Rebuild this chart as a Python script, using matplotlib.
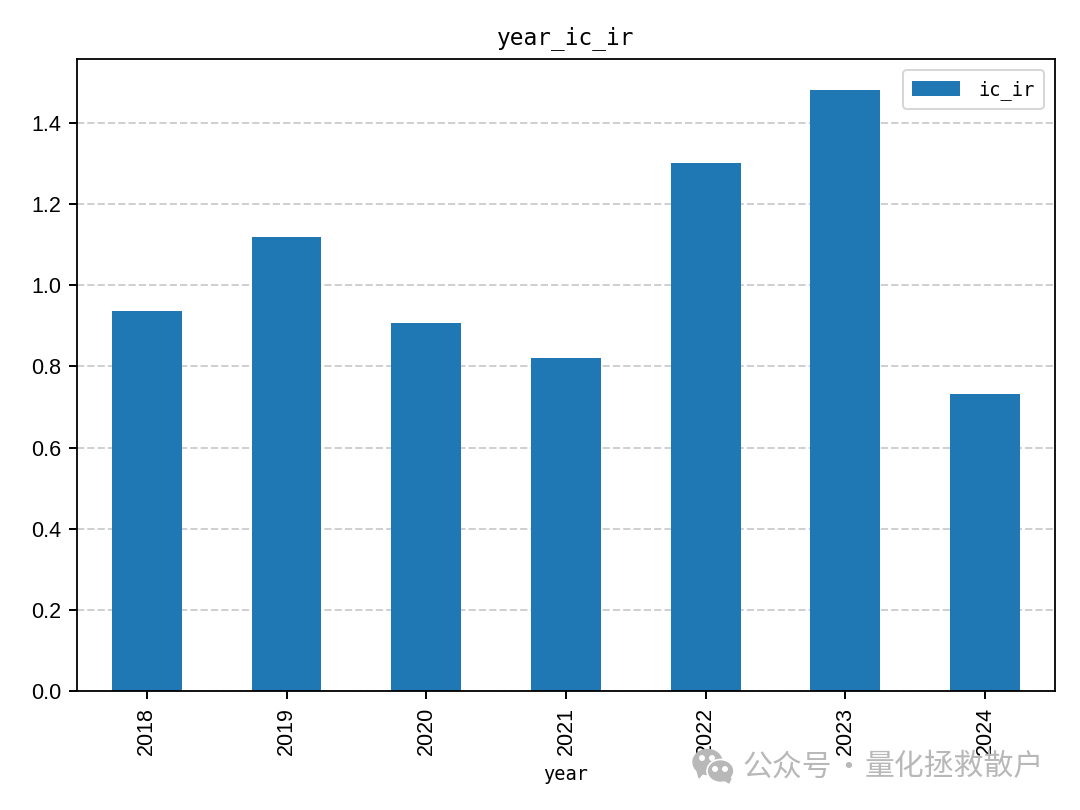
import matplotlib
matplotlib.use('Agg')
import matplotlib.pyplot as plt
from matplotlib.patches import Ellipse, Polygon
from matplotlib.transforms import IdentityTransform
import pandas as pd

plt.rcParams['font.family'] = ['Noto Sans CJK SC', 'DejaVu Sans']
plt.rcParams['axes.unicode_minus'] = False

years = [2018, 2019, 2020, 2021, 2022, 2023, 2024]
ic_ir = [0.936, 1.12, 0.906, 0.822, 1.302, 1.482, 0.733]
y_ticks = [0.0, 0.2, 0.4, 0.6, 0.8, 1.0, 1.2, 1.4]

MONO = 'DejaVu Sans Mono'
SANS = 'Liberation Sans'
W, H = 1080, 810
MARK = '#b8b8b8'

df = pd.DataFrame({'ic_ir': ic_ir}, index=pd.Index(years, name='year'))

fig = plt.figure(figsize=(10.8, 8.1), dpi=100)
ax = fig.add_axes([77/W, 1-691/H, (1055-77)/W, (691-59)/H])

df.plot(kind='bar', ax=ax, color='#1f77b4', width=0.5)

ax.set_title('year_ic_ir', fontsize=16.4, family=MONO, pad=10.5)
ax.set_xlabel('year', fontsize=13.4, family=MONO, labelpad=7)
ax.set_ylim(0, 1.558)
ax.set_yticks(y_ticks)
ax.set_yticklabels(['%.1f' % t for t in y_ticks], family=SANS)
ax.tick_params(axis='both', labelsize=15.5, width=1.4, length=5.8, pad=5.5)
for label in ax.get_xticklabels():
    label.set_family(SANS)
    label.set_rotation(90)
ax.grid(True, axis='y', linestyle='--', color='#cfcfcf', linewidth=1.4)
ax.set_axisbelow(True)
for s in ax.spines.values():
    s.set_linewidth(1.3)
leg = ax.legend(loc='upper right', prop={'family': MONO, 'size': 13.5},
                handlelength=2.56, handleheight=0.85, handletextpad=0.95,
                borderpad=0.5, borderaxespad=0.6)
leg.get_frame().set_linewidth(1.4)

# watermark: chat icon and account name, placed in pixels
def px(x, y):
    return (x, H - y)

tf = IdentityTransform()
fig.add_artist(Ellipse(px(707.5, 762), 29, 25, color=MARK, transform=tf))
fig.add_artist(Polygon([px(697, 770), px(703, 773), px(699, 778)], color=MARK, transform=tf))
fig.add_artist(Ellipse(px(720.5, 771), 27, 23, fc=MARK, ec='white', lw=1.2, transform=tf))
fig.add_artist(Polygon([px(724, 780), px(731, 778), px(729, 783)], color=MARK, transform=tf))
for x, y in [(702, 758), (712, 758), (715, 769), (725, 769)]:
    fig.add_artist(Ellipse(px(x, y), 4.5, 4.5, color='white', transform=tf))
fig.text(742/W, 1-767/H, '公众号', fontsize=21.5, color=MARK, ha='left', va='center')
fig.text(848/W, 1-767/H, '·', fontsize=21.5, color=MARK, ha='center', va='center')
fig.text(1044/W, 1-767/H, '量化拯救散户', fontsize=21.5, color=MARK, ha='right', va='center')

fig.savefig('out.png', dpi=100)
